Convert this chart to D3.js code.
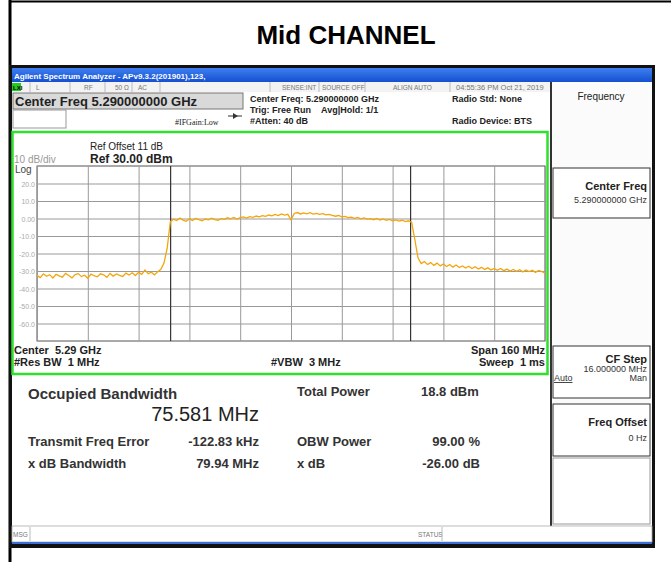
<!DOCTYPE html>
<html>
<head>
<meta charset="utf-8">
<script src="https://cdn.jsdelivr.net/npm/d3@7"></script>
<style>
  body { margin: 0; background: #fff; }
  svg { display: block; font-family: "Liberation Sans", Arial, sans-serif; }
</style>
</head>
<body>
<svg id="chart" width="671" height="562"></svg>
<script>
const title = 'Mid CHANNEL';
const startMHz = 5210;
const stopMHz = 5370;
const stepMHz = 1;
const refLevel = 30;
const bottomLevel = -70;
const levelTicks = [20, 10, 0, -10, -20, -30, -40, -50, -60];
const levelLabels = ['20.0', '10.0', '0.00', '-10.0', '-20.0', '-30.0', '-40.0', '-50.0', '-60.0'];
const obwCenterMHz = 5290 - 0.12283;
const obwMHz = 75.581;

// trace levels in dBm, one per MHz from 5210 to 5370
const traceDbm = [
  -32.5, -33.8, -31.6, -33.0, -32.1, -34.0, -31.9, -32.8, -33.5, -31.4,
  -32.6, -33.9, -32.0, -31.5, -33.2, -32.4, -34.1, -31.8, -32.7, -33.3,
  -31.6, -32.2, -33.6, -31.4, -32.9, -31.7, -32.5, -33.1, -31.2, -32.3,
  -31.0, -32.6, -30.8, -31.9, -29.4, -31.5, -30.7, -32.2, -30.5, -29.0,
  -25.5, -17.0, -1.8, -0.4, -1.2, 0.3, -0.9, -1.6, -0.2, -1.1,
  0.1, -0.7, -1.3, -0.3, -0.8, 0.2, -0.6, -1.0, -0.1, -0.5,
  0.4, -0.2, 0.6, -0.3, 0.5, 0.9, 0.2, 1.1, 0.7, 1.4,
  0.9, 1.6, 1.2, 2.0, 1.5, 2.3, 1.7, 2.6, 1.9, 2.4,
  -0.8, 2.9, 3.4, 2.6, 3.2, 2.7, 3.3, 2.5, 2.9, 2.4,
  2.8, 2.1, 2.4, 1.8, 1.3, 1.7, 0.9, 1.2, 0.5, 0.8,
  0.1, 0.6, -0.2, 0.3, -0.4, -0.1, -0.7, 0.0, -0.9, -0.3,
  -1.1, -0.5, -1.3, -0.8, -1.5, -1.0, -1.8, -1.3, -2.2, -12.0,
  -22.5, -25.8, -24.6, -26.3, -25.2, -26.8, -25.5, -27.1, -26.0, -27.4,
  -26.3, -27.8, -26.6, -28.0, -27.1, -28.3, -27.3, -28.6, -27.6, -28.9,
  -27.9, -29.1, -28.2, -29.4, -28.5, -29.6, -28.6, -29.8, -28.9, -30.0,
  -29.1, -30.2, -29.3, -30.5, -29.4, -30.3, -29.6, -30.8, -29.7, -30.4,
  -31.2
];

// measurement table
const measLeftLabels = ['Transmit Freq Error', 'x dB Bandwidth'];
const measLeftValues = ['-122.83 kHz', '79.94 MHz'];
const measRightLabels = ['OBW Power', 'x dB'];
const measRightValues = ['99.00 %', '-26.00 dB'];

const svg = d3.select('#chart');

// outer frame + title
svg.append('rect').attr('width', 671).attr('height', 562).attr('fill', '#fff');
svg.append('line').attr('x1', 10).attr('x2', 10).attr('y1', 0).attr('y2', 562)
  .attr('stroke', '#000').attr('stroke-width', 3);
svg.append('line').attr('x1', 9).attr('x2', 671).attr('y1', 1.5).attr('y2', 1.5)
  .attr('stroke', '#000').attr('stroke-width', 2);
svg.append('text').attr('x', 346).attr('y', 44).attr('text-anchor', 'middle')
  .attr('font-size', 26).attr('font-weight', 'bold').attr('fill', '#000').text(title);

// screenshot frame
svg.append('rect').attr('x', 9).attr('y', 65).attr('width', 646).attr('height', 483).attr('fill', '#111');

const grad = svg.append('defs').append('linearGradient').attr('id', 'bar').attr('x1', 0).attr('x2', 0).attr('y1', 0).attr('y2', 1);
grad.append('stop').attr('offset', '0%').attr('stop-color', '#3f7ff0');
grad.append('stop').attr('offset', '100%').attr('stop-color', '#1450d0');
svg.append('rect').attr('x', 12).attr('y', 68).attr('width', 640).attr('height', 14).attr('fill', 'url(#bar)');
svg.append('text').attr('x', 14).attr('y', 78.5).attr('font-size', 8).attr('font-weight', 'bold')
  .attr('fill', '#fff').text('Agilent Spectrum Analyzer - APv9.3.2(201901),123,');

// status row
svg.append('rect').attr('x', 12).attr('y', 82).attr('width', 539).attr('height', 10).attr('fill', '#f3f3f3');
svg.append('rect').attr('x', 12).attr('y', 83).attr('width', 9).attr('height', 8).attr('fill', '#22cc22');
svg.append('text').attr('x', 13).attr('y', 90).attr('font-size', 6).attr('font-weight', 'bold').attr('fill', '#000').text('LXI');
const statusItems = [
  { x: 36, t: 'L' }, { x: 84, t: 'RF' }, { x: 115, t: '50 Ω' }, { x: 138, t: 'AC' },
  { x: 282, t: 'SENSE:INT' }, { x: 322, t: 'SOURCE OFF' }, { x: 393, t: 'ALIGN AUTO' },
  { x: 456, t: '04:55:36 PM Oct 21, 2019' }
];
svg.selectAll('.status').data(statusItems).enter().append('text')
  .attr('class', 'status').attr('x', d => d.x).attr('y', 90)
  .attr('font-size', d => d.t.length > 15 ? 7.5 : 6.5).attr('fill', '#777').text(d => d.t);
[30, 70, 105, 132, 160, 270, 319, 365, 450].forEach(x => {
  svg.append('line').attr('x1', x).attr('x2', x).attr('y1', 82).attr('y2', 92).attr('stroke', '#bbb');
});

// main screen area
svg.append('rect').attr('x', 12).attr('y', 92).attr('width', 539).attr('height', 434).attr('fill', '#fff');
svg.append('rect').attr('x', 13).attr('y', 93).attr('width', 230).attr('height', 16)
  .attr('fill', '#d9d9d9').attr('stroke', '#777');
svg.append('text').attr('x', 15).attr('y', 106).attr('font-size', 13).attr('font-weight', 'bold')
  .attr('fill', '#222').text('Center Freq 5.290000000 GHz');
svg.append('rect').attr('x', 13).attr('y', 110).attr('width', 53).attr('height', 18)
  .attr('fill', '#fff').attr('stroke', '#999');
svg.append('text').attr('x', 175).attr('y', 125).attr('font-size', 8)
  .attr('font-family', '"Liberation Serif", serif').attr('fill', '#222').text('#IFGain:Low');
svg.append('line').attr('x1', 228).attr('x2', 242).attr('y1', 116).attr('y2', 116).attr('stroke', '#333');
svg.append('path').attr('d', 'M233,113 L238,116 L233,119 Z').attr('fill', '#333');

const infoItems = [
  { x: 250, y: 102, t: 'Center Freq: 5.290000000 GHz' },
  { x: 250, y: 113, t: 'Trig: Free Run' },
  { x: 321, y: 113, t: 'Avg|Hold: 1/1' },
  { x: 250, y: 124, t: '#Atten: 40 dB' },
  { x: 452, y: 102, t: 'Radio Std: None' },
  { x: 452, y: 124, t: 'Radio Device: BTS' }
];
svg.selectAll('.info').data(infoItems).enter().append('text')
  .attr('class', 'info').attr('x', d => d.x).attr('y', d => d.y)
  .attr('font-size', 9).attr('font-weight', 'bold').attr('fill', '#222').text(d => d.t);

// green trace window
svg.append('rect').attr('x', 12.5).attr('y', 132).attr('width', 535).attr('height', 242)
  .attr('fill', '#fff').attr('stroke', '#2fe02f').attr('stroke-width', 2.5);
svg.append('text').attr('x', 90).attr('y', 150).attr('font-size', 10).attr('fill', '#222').text('Ref Offset 11 dB');
svg.append('text').attr('x', 90).attr('y', 163).attr('font-size', 12).attr('font-weight', 'bold').attr('fill', '#222').text('Ref 30.00 dBm');
svg.append('text').attr('x', 14).attr('y', 163).attr('font-size', 10).attr('fill', '#999').text('10 dB/div');
svg.append('text').attr('x', 15).attr('y', 173).attr('font-size', 10).attr('fill', '#444').text('Log');

const x = d3.scaleLinear().domain([startMHz, stopMHz]).range([37, 545]);
const y = d3.scaleLinear().domain([bottomLevel, refLevel]).range([341, 166]);

const plot = svg.append('g');
plot.append('rect').attr('x', 37).attr('y', 166).attr('width', 508).attr('height', 175)
  .attr('fill', '#fff').attr('stroke', '#555');

const xAxis = d3.axisBottom(x).tickValues(d3.range(startMHz, stopMHz + 1, 16))
  .tickSize(-175).tickFormat('');
plot.append('g').attr('transform', 'translate(0,341)').call(xAxis)
  .call(g => g.select('.domain').remove())
  .call(g => g.selectAll('line').attr('stroke', '#999'));
const yAxis = d3.axisLeft(y).tickValues(levelTicks).tickSize(-508).tickFormat('');
plot.append('g').attr('transform', 'translate(37,0)').call(yAxis)
  .call(g => g.select('.domain').remove())
  .call(g => g.selectAll('line').attr('stroke', '#999'));

plot.selectAll('.lvl').data(levelTicks).enter().append('text')
  .attr('class', 'lvl').attr('x', 35).attr('y', d => y(d) + 3)
  .attr('text-anchor', 'end').attr('font-size', 7).attr('fill', '#aaa')
  .text((d, i) => levelLabels[i]);

// OBW markers
plot.selectAll('.obw').data([obwCenterMHz - obwMHz / 2, obwCenterMHz + obwMHz / 2]).enter()
  .append('line').attr('class', 'obw')
  .attr('x1', d => x(d)).attr('x2', d => x(d)).attr('y1', 166).attr('y2', 341)
  .attr('stroke', '#333').attr('stroke-width', 1.2);

// trace
const sweep = d3.range(startMHz, stopMHz + stepMHz / 2, stepMHz);
const line = d3.line().x((d, i) => x(sweep[i])).y(d => y(d));
plot.append('path').datum(traceDbm).attr('d', line)
  .attr('fill', 'none').attr('stroke', '#f2a60c').attr('stroke-width', 1.3);

// bottom annotations
const annot = [
  { x: 14, y: 354, a: 'start', t: 'Center  5.29 GHz' },
  { x: 14, y: 366, a: 'start', t: '#Res BW  1 MHz' },
  { x: 271, y: 366, a: 'start', t: '#VBW  3 MHz' },
  { x: 545, y: 354, a: 'end', t: 'Span 160 MHz' },
  { x: 545, y: 366, a: 'end', t: 'Sweep  1 ms' }
];
svg.selectAll('.annot').data(annot).enter().append('text')
  .attr('class', 'annot').attr('x', d => d.x).attr('y', d => d.y).attr('text-anchor', d => d.a)
  .attr('font-size', 11).attr('font-weight', 'bold').attr('fill', '#222')
  .style('white-space', 'pre').text(d => d.t);

// measurement results
svg.append('text').attr('x', 28).attr('y', 399).attr('font-size', 15).attr('font-weight', 'bold')
  .attr('fill', '#333').text('Occupied Bandwidth');
svg.append('text').attr('x', 259).attr('y', 421).attr('text-anchor', 'end').attr('font-size', 20)
  .attr('fill', '#222').text('75.581 MHz');
svg.append('text').attr('x', 297).attr('y', 396).attr('font-size', 13).attr('font-weight', 'bold')
  .attr('fill', '#333').text('Total Power');
svg.append('text').attr('x', 421).attr('y', 396).attr('font-size', 13).attr('font-weight', 'bold')
  .attr('fill', '#333').text('18.8 dBm');
const rowY = [446, 468];
rowY.forEach((ry, i) => {
  svg.append('text').attr('x', 28).attr('y', ry).attr('font-size', 13).attr('font-weight', 'bold')
    .attr('fill', '#333').text(measLeftLabels[i]);
  svg.append('text').attr('x', 259).attr('y', ry).attr('text-anchor', 'end').attr('font-size', 13)
    .attr('font-weight', 'bold').attr('fill', '#333').text(measLeftValues[i]);
  svg.append('text').attr('x', 297).attr('y', ry).attr('font-size', 13).attr('font-weight', 'bold')
    .attr('fill', '#333').text(measRightLabels[i]);
  svg.append('text').attr('x', 480).attr('y', ry).attr('text-anchor', 'end').attr('font-size', 13)
    .attr('font-weight', 'bold').attr('fill', '#333').text(measRightValues[i]);
});

// right soft-key panel
svg.append('line').attr('x1', 551).attr('x2', 551).attr('y1', 82).attr('y2', 526).attr('stroke', '#333').attr('stroke-width', 2);
svg.append('rect').attr('x', 552).attr('y', 82).attr('width', 100).attr('height', 444).attr('fill', '#fbfbfb');
svg.append('text').attr('x', 601).attr('y', 100).attr('text-anchor', 'middle').attr('font-size', 10)
  .attr('fill', '#222').text('Frequency');
const keys = [
  { y: 168, h: 50, t: 'Center Freq', sub: '5.290000000 GHz', ty: 22, sy: 35 },
  { y: 346, h: 52, t: 'CF Step', sub: '16.000000 MHz', ty: 17, sy: 26 },
  { y: 404, h: 52, t: 'Freq Offset', sub: '0 Hz', ty: 22, sy: 37 },
  { y: 458, h: 66, t: '', sub: '', ty: 0, sy: 0 }
];
const key = svg.selectAll('.key').data(keys).enter().append('g').attr('class', 'key');
key.append('rect').attr('x', 553).attr('y', d => d.y).attr('width', 97).attr('height', d => d.h)
  .attr('fill', '#fff').attr('stroke', d => d.t ? '#333' : '#999');
key.append('text').attr('x', 647).attr('y', d => d.y + d.ty).attr('text-anchor', 'end')
  .attr('font-size', 11).attr('font-weight', 'bold').attr('fill', '#222').text(d => d.t);
key.append('text').attr('x', 647).attr('y', d => d.y + d.sy).attr('text-anchor', 'end')
  .attr('font-size', 9).attr('fill', '#333').text(d => d.sub);
svg.append('text').attr('x', 554).attr('y', 381).attr('font-size', 9).attr('fill', '#333')
  .attr('text-decoration', 'underline').text('Auto');
svg.append('text').attr('x', 647).attr('y', 381).attr('text-anchor', 'end').attr('font-size', 9)
  .attr('fill', '#333').text('Man');

// message bar
svg.append('rect').attr('x', 12).attr('y', 526).attr('width', 640).attr('height', 16).attr('fill', '#fff')
  .attr('stroke', '#aaa').attr('stroke-width', 0.8);
svg.append('rect').attr('x', 12).attr('y', 542).attr('width', 640).attr('height', 2).attr('fill', '#3a6fd8');
svg.append('text').attr('x', 13).attr('y', 537).attr('font-size', 6.5).attr('fill', '#777').text('MSG');
svg.append('line').attr('x1', 30).attr('x2', 30).attr('y1', 527).attr('y2', 541).attr('stroke', '#bbb');
svg.append('text').attr('x', 418).attr('y', 537).attr('font-size', 6.5).attr('fill', '#777').text('STATUS');
svg.append('line').attr('x1', 442).attr('x2', 442).attr('y1', 527).attr('y2', 541).attr('stroke', '#bbb');
</script>
</body>
</html>
